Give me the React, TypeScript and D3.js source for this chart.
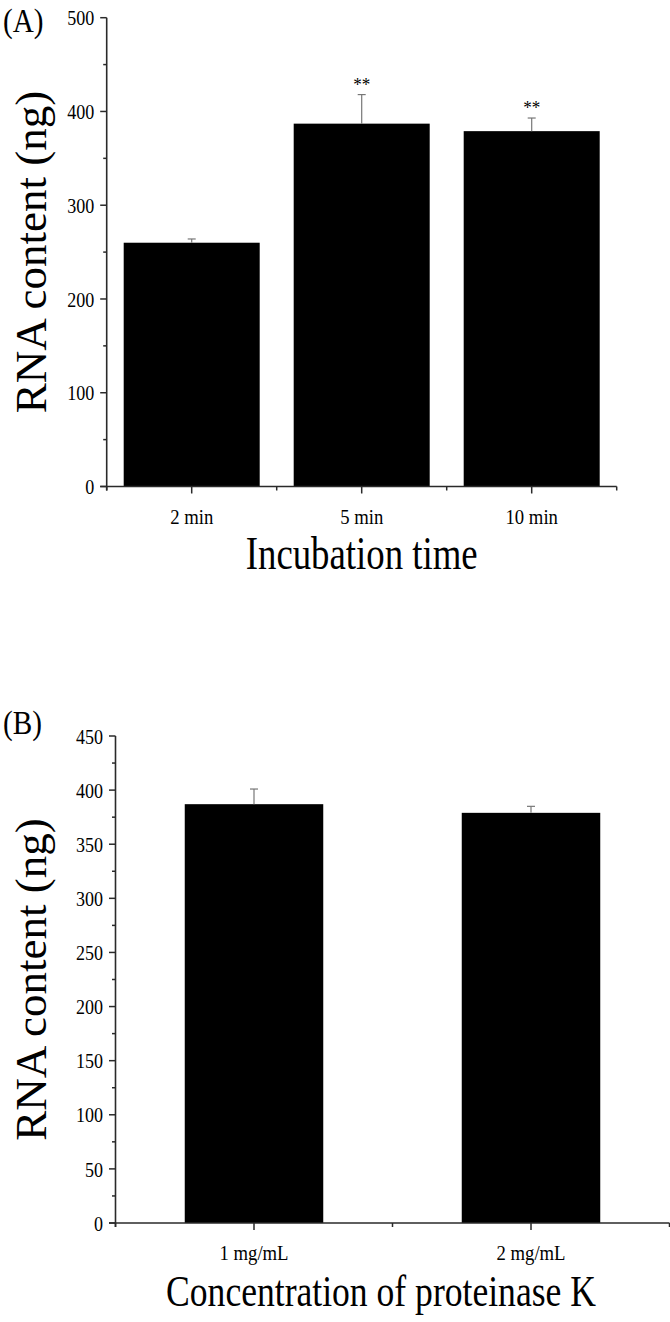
import React from "react";
import * as d3 from "d3";

const catsA = ["2 min", "5 min", "10 min"];
const valsA = [260, 387, 379];
const errA = [4, 31, 14];
const sigA = ["", "**", "**"];
const yTicksA = [0, 100, 200, 300, 400, 500];

const catsB = ["1 mg/mL", "2 mg/mL"];
const valsB = [387, 379];
const errB = [14, 6];
const yTicksB = [0, 50, 100, 150, 200, 250, 300, 350, 400, 450];

const FONT = "'Liberation Serif', 'Times New Roman', serif";

type PanelProps = {
  label: string;
  cats: string[];
  vals: number[];
  errs: number[];
  sig?: string[];
  yTicks: number[];
  yMinorStep: number;
  yMax: number;
  x0: number;
  x1: number;
  yTop: number;
  yBot: number;
  padInner: number;
  padOuter: number;
  xTitle: string;
  xTitleX: number;
  xTitleSize: number;
  labelY: number;
};

function T({ x, y, children, size, anchor = "middle", rot = false, dy = "0", sq = 0.8 }: any) {
  const tr = rot
    ? `translate(${x},${y}) scale(${sq},1) rotate(-90)`
    : `translate(${x},${y}) scale(${sq},1)`;
  return (
    <text transform={tr} fontFamily={FONT} fontSize={size} textAnchor={anchor} dy={dy} fill="#000">
      {children}
    </text>
  );
}

function Panel(p: PanelProps) {
  const x = d3.scaleBand<string>().domain(p.cats).range([p.x0, p.x1]).paddingInner(p.padInner).paddingOuter(p.padOuter);
  const y = d3.scaleLinear().domain([0, p.yMax]).range([p.yBot, p.yTop]);
  const minor = d3.range(0, p.yMax + 0.001, p.yMinorStep).filter((v) => !p.yTicks.includes(v));
  const step = x.step();
  const bounds = d3.range(p.cats.length + 1).map((i) => p.x0 + i * step);
  const axisColor = "#2a2a2a";
  return (
    <g>
      <T x={3} y={p.labelY} size={34} anchor="start" sq={0.86}>{p.label}</T>
      {p.cats.map((c, i) => {
        const cx = (x(c) as number) + x.bandwidth() / 2;
        const top = y(p.vals[i] + p.errs[i]);
        return (
          <g key={c}>
            <rect x={x(c)} y={y(p.vals[i])} width={x.bandwidth()} height={y(0) - y(p.vals[i])} fill="#000" />
            <line x1={cx} x2={cx} y1={y(p.vals[i])} y2={top} stroke="#777" strokeWidth={1.2} />
            <line x1={cx - 4} x2={cx + 4} y1={top} y2={top} stroke="#777" strokeWidth={1.2} />
            {p.sig && p.sig[i] ? (
              <T x={cx} y={top - 4} size={19} sq={0.9}>{p.sig[i]}</T>
            ) : null}
          </g>
        );
      })}
      {/* y axis */}
      <line x1={p.x0} x2={p.x0} y1={p.yTop} y2={p.yBot + 4} stroke={axisColor} strokeWidth={1.6} />
      {p.yTicks.map((t) => (
        <g key={"yt" + t}>
          <line x1={p.x0 - 6.5} x2={p.x0} y1={y(t)} y2={y(t)} stroke={axisColor} strokeWidth={1.5} />
          <T x={p.x0 - 12.5} y={y(t)} size={22} anchor="end" dy="0.35em" sq={0.82}>{String(t)}</T>
        </g>
      ))}
      {minor.map((t) => (
        <line key={"ym" + t} x1={p.x0 - 3.5} x2={p.x0} y1={y(t)} y2={y(t)} stroke={axisColor} strokeWidth={1.5} />
      ))}
      {/* x axis */}
      <line x1={p.x0 - 6.5} x2={p.x1} y1={p.yBot} y2={p.yBot} stroke={axisColor} strokeWidth={1.6} />
      {bounds.map((bx, i) => (
        <line key={"xm" + i} x1={bx} x2={bx} y1={p.yBot} y2={p.yBot + 4} stroke={axisColor} strokeWidth={1.5} />
      ))}
      {p.cats.map((c) => {
        const cx = (x(c) as number) + x.bandwidth() / 2;
        return (
          <g key={"xt" + c}>
            <line x1={cx} x2={cx} y1={p.yBot} y2={p.yBot + 7} stroke={axisColor} strokeWidth={1.5} />
            <T x={cx} y={p.yBot + 37} size={22} sq={0.85}>{c}</T>
          </g>
        );
      })}
      <T x={p.xTitleX} y={p.yBot + 82.5} size={p.xTitleSize}>{p.xTitle}</T>
      <T x={46} y={(p.yTop + p.yBot) / 2} size={45} rot sq={1}>{"RNA content (ng)"}</T>
    </g>
  );
}

export default function App() {
  return (
    <svg
      width={670}
      height={1322}
      style={{ position: "absolute", left: 0, top: 0, background: "#fff" }}
    >
      <rect width={670} height={1322} fill="#fff" />
      <Panel
        label="(A)"
        cats={catsA}
        vals={valsA}
        errs={errA}
        sig={sigA}
        yTicks={yTicksA}
        yMinorStep={50}
        yMax={500}
        x0={106.7}
        x1={616.7}
        yTop={17.7}
        yBot={486.5}
        padInner={0.2}
        padOuter={0.1}
        xTitle="Incubation time"
        xTitleX={361.7}
        xTitleSize={46}
        labelY={32}
      />
      <Panel
        label="(B)"
        cats={catsB}
        vals={valsB}
        errs={errB}
        yTicks={yTicksB}
        yMinorStep={25}
        yMax={450}
        x0={115.5}
        x1={669.5}
        yTop={736}
        yBot={1223}
        padInner={0.5}
        padOuter={0.25}
        xTitle="Concentration of proteinase K"
        xTitleX={381}
        xTitleSize={44.5}
        labelY={734}
      />
    </svg>
  );
}
